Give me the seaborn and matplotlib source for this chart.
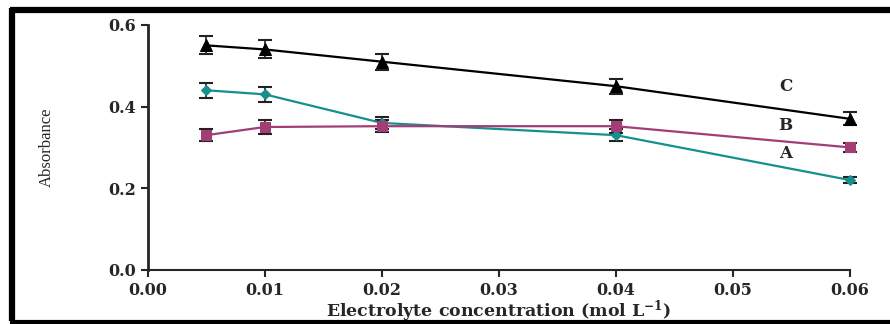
import pandas as pd
import matplotlib.pyplot as plt
import seaborn as sns
from matplotlib.lines import Line2D

sns.set_style("ticks")
plt.rcParams["font.family"] = ["Liberation Serif", "DejaVu Serif"]
plt.rcParams["mathtext.fontset"] = "dejavuserif"

# Data
conc = [0.005, 0.01, 0.02, 0.04, 0.06]
abs_a = [0.44, 0.43, 0.36, 0.33, 0.22]
err_a = [0.018, 0.018, 0.015, 0.015, 0.008]
abs_b = [0.33, 0.35, 0.352, 0.352, 0.30]
err_b = [0.015, 0.016, 0.015, 0.016, 0.012]
abs_c = [0.55, 0.54, 0.51, 0.45, 0.37]
err_c = [0.022, 0.022, 0.02, 0.018, 0.016]
series_names = ["A", "B", "C"]

df = pd.concat([
    pd.DataFrame({"conc": conc, "absorbance": abs_a, "err": err_a, "series": "A"}),
    pd.DataFrame({"conc": conc, "absorbance": abs_b, "err": err_b, "series": "B"}),
    pd.DataFrame({"conc": conc, "absorbance": abs_c, "err": err_c, "series": "C"}),
])

colours = {"A": "#15908C", "B": "#A33D76", "C": "#000000"}
markers = {"A": "D", "B": "s", "C": "^"}
msizes = {"A": 5, "B": 7, "C": 9}
wide_font = "DejaVu Serif"

fig = plt.figure(figsize=(8.9, 3.24), dpi=100)
ax = fig.add_axes([0.166, 0.167, 0.789, 0.756])

for name in series_names:
    sub = df[df["series"] == name]
    ax.errorbar(sub["conc"], sub["absorbance"], yerr=sub["err"], fmt="none",
                ecolor="#222222", elinewidth=1.2, capsize=5, capthick=1.5,
                zorder=3, clip_on=False)
    sns.lineplot(data=sub, x="conc", y="absorbance", color=colours[name],
                 marker=markers[name], markersize=msizes[name],
                 markeredgecolor=colours[name], linewidth=1.6, ax=ax,
                 zorder=4, clip_on=False, legend=False)

# Series labels
for lab, yv in zip(["C", "B", "A"], [0.45, 0.354, 0.286]):
    ax.text(0.0545, yv, lab, fontsize=12, fontweight="bold", family=wide_font,
            ha="center", va="center")

ax.set_xlim(0, 0.06)
ax.set_ylim(0, 0.6)
ax.set_xticks([0.0, 0.01, 0.02, 0.03, 0.04, 0.05, 0.06])
ax.set_xticklabels(["0.00", "0.01", "0.02", "0.03", "0.04", "0.05", "0.06"])
ax.set_yticks([0.0, 0.2, 0.4, 0.6])
ax.set_yticklabels(["0.0", "0.2", "0.4", "0.6"])
ax.tick_params(axis="both", labelsize=11.5, width=1.5, length=5, direction="out")
for lab in ax.get_xticklabels() + ax.get_yticklabels():
    lab.set_fontweight("bold")
    lab.set_family(wide_font)

sns.despine(ax=ax)
ax.spines["left"].set_linewidth(2)
ax.spines["bottom"].set_linewidth(1.5)

ax.set_xlabel("Electrolyte concentration (mol L$^{\\mathbf{-1}}$)", fontsize=12.5,
              fontweight="bold", family=wide_font)
ax.xaxis.set_label_coords(0.5, -0.115)
ax.set_ylabel("Absorbance", fontsize=12, fontstretch="condensed")
ax.yaxis.set_label_coords(-0.132, 0.5)

# Thick frame around the picture (right side open)
fig.add_artist(Line2D([0.0135, 0.0135], [0.01, 0.975], transform=fig.transFigure,
                      color="black", linewidth=4.5, solid_capstyle="butt"))
fig.add_artist(Line2D([0.0115, 1.0], [0.97, 0.97], transform=fig.transFigure,
                      color="black", linewidth=4.5, solid_capstyle="butt"))
fig.add_artist(Line2D([0.0115, 1.0], [0.005, 0.005], transform=fig.transFigure,
                      color="black", linewidth=3, solid_capstyle="butt"))

plt.savefig("out.png", dpi=100)
plt.close()
